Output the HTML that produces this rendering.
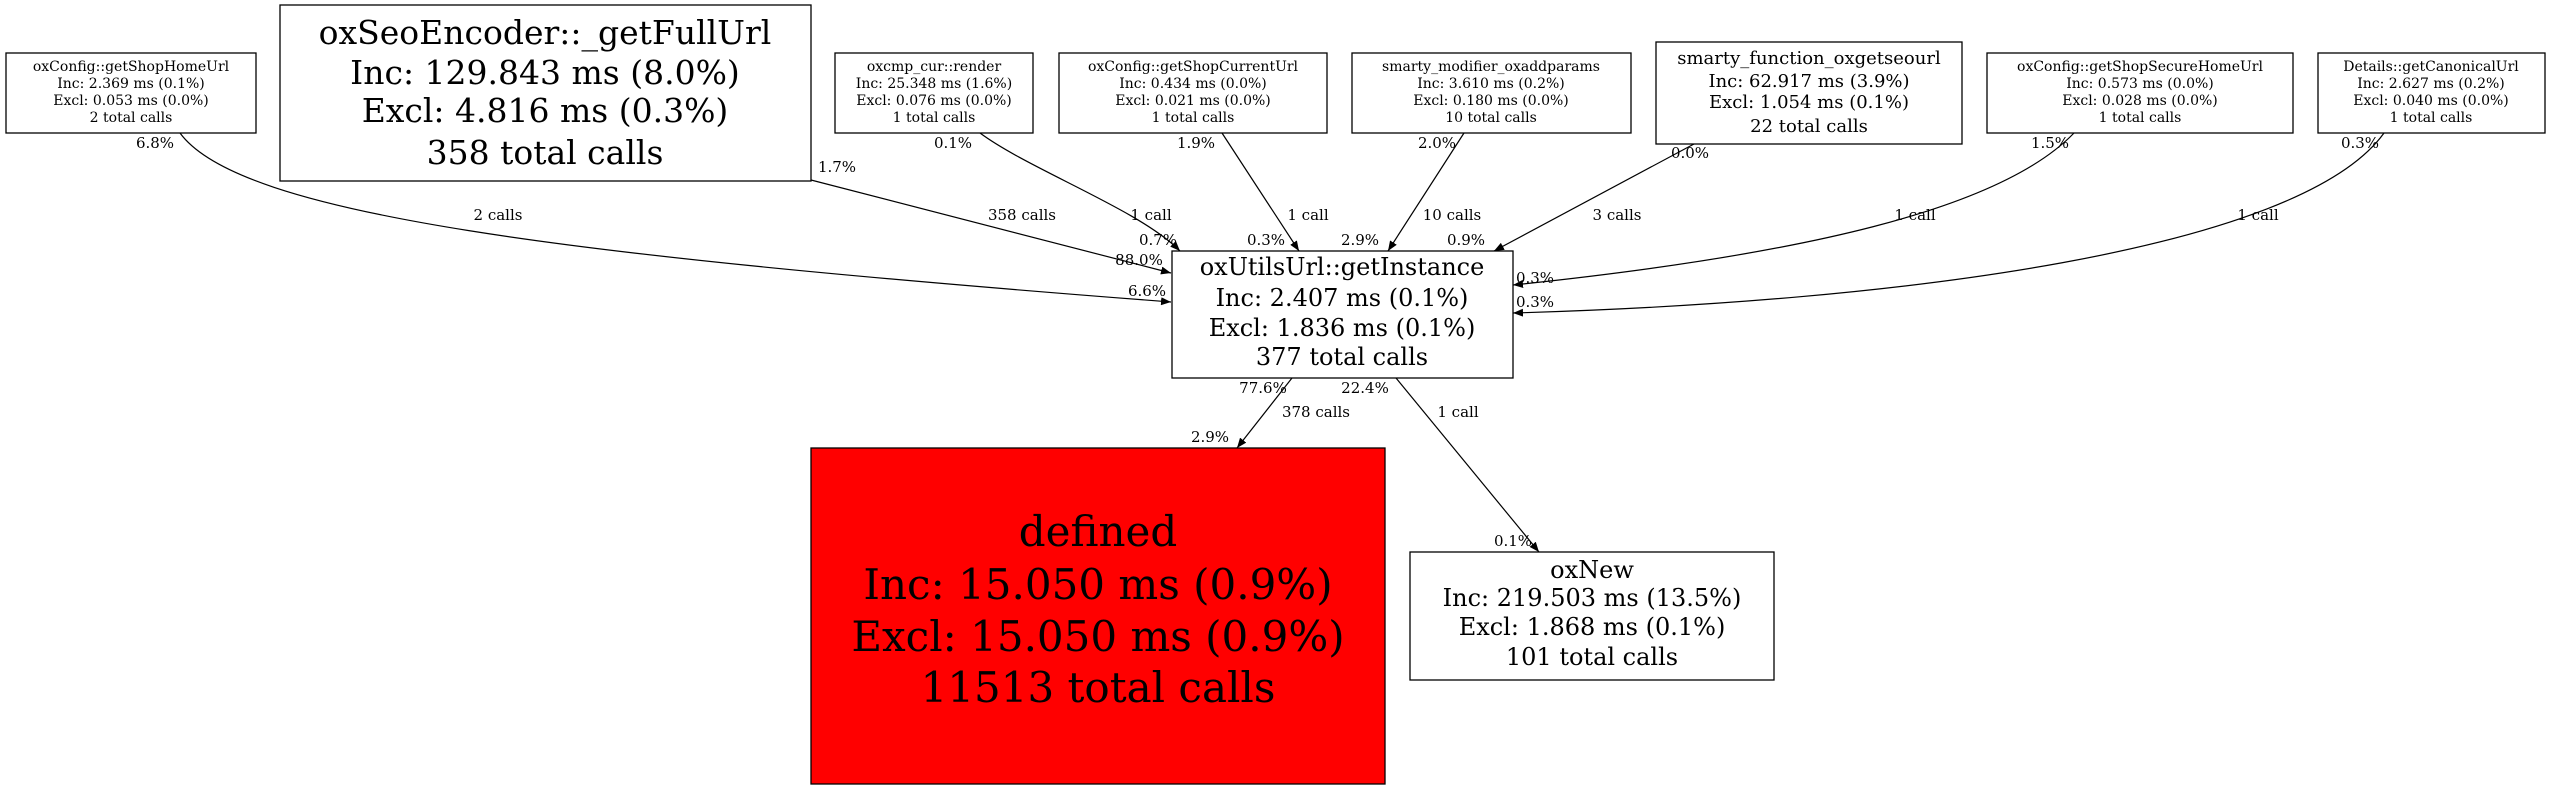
<!DOCTYPE html>
<html><head><meta charset="utf-8"><style>
html,body{margin:0;padding:0;background:#fff;}
svg{display:block;}
text{font-family:"DejaVu Serif","Liberation Serif",serif;fill:#000;text-anchor:middle;}
.s{font-size:14px;}
.e{font-size:15px;}
</style></head><body>
<svg width="2553" height="789" viewBox="0 0 2553 789" xmlns="http://www.w3.org/2000/svg">
<defs><marker id="a" markerWidth="10" markerHeight="8" refX="10" refY="4" orient="auto" markerUnits="userSpaceOnUse"><path d="M0,0 L10,4 L0,8 z" fill="#000"/></marker></defs>
<g fill="#fff" stroke="#000" stroke-width="1.3">
<rect x="6" y="53" width="250" height="80"/>
<rect x="280" y="5" width="531" height="176"/>
<rect x="835" y="53" width="198" height="80"/>
<rect x="1059" y="53" width="268" height="80"/>
<rect x="1352" y="53" width="279" height="80"/>
<rect x="1656" y="42" width="306" height="102"/>
<rect x="1987" y="53" width="306" height="80"/>
<rect x="2318" y="53" width="227" height="80"/>
<rect x="1172" y="251" width="341" height="127"/>
<rect x="811" y="448" width="574" height="336" fill="#ff0000"/>
<rect x="1410" y="552" width="364" height="128"/>
</g>
<g fill="none" stroke="#000" stroke-width="1.2" marker-end="url(#a)">
<path d="M180,133 C240,215 560,255 1171,302"/>
<path d="M811,180 L1171,273"/>
<path d="M980,133 C1030,170 1140,210 1180,251"/>
<path d="M1222,133 L1299,251"/>
<path d="M1464,133 L1388,251"/>
<path d="M1694,144 L1494,251"/>
<path d="M2074,133 C2000,210 1800,255 1513,285"/>
<path d="M2384,133 C2300,250 1900,302 1513,313"/>
<path d="M1292,378 L1237,448"/>
<path d="M1396,378 L1539,552"/>
</g>
<g class="s">
<text x="131" y="71">oxConfig::getShopHomeUrl</text><text x="131" y="88">Inc: 2.369 ms (0.1%)</text><text x="131" y="105">Excl: 0.053 ms (0.0%)</text><text x="131" y="122">2 total calls</text>
<text x="934" y="71">oxcmp_cur::render</text><text x="934" y="88">Inc: 25.348 ms (1.6%)</text><text x="934" y="105">Excl: 0.076 ms (0.0%)</text><text x="934" y="122">1 total calls</text>
<text x="1193" y="71">oxConfig::getShopCurrentUrl</text><text x="1193" y="88">Inc: 0.434 ms (0.0%)</text><text x="1193" y="105">Excl: 0.021 ms (0.0%)</text><text x="1193" y="122">1 total calls</text>
<text x="1491" y="71">smarty_modifier_oxaddparams</text><text x="1491" y="88">Inc: 3.610 ms (0.2%)</text><text x="1491" y="105">Excl: 0.180 ms (0.0%)</text><text x="1491" y="122">10 total calls</text>
<text x="2140" y="71">oxConfig::getShopSecureHomeUrl</text><text x="2140" y="88">Inc: 0.573 ms (0.0%)</text><text x="2140" y="105">Excl: 0.028 ms (0.0%)</text><text x="2140" y="122">1 total calls</text>
<text x="2431" y="71">Details::getCanonicalUrl</text><text x="2431" y="88">Inc: 2.627 ms (0.2%)</text><text x="2431" y="105">Excl: 0.040 ms (0.0%)</text><text x="2431" y="122">1 total calls</text>
</g>
<g style="font-size:33px">
<text x="545" y="44">oxSeoEncoder::_getFullUrl</text><text x="545" y="84">Inc: 129.843 ms (8.0%)</text><text x="545" y="122">Excl: 4.816 ms (0.3%)</text><text x="545" y="164">358 total calls</text>
</g>
<g style="font-size:18px">
<text x="1809" y="64">smarty_function_oxgetseourl</text><text x="1809" y="87">Inc: 62.917 ms (3.9%)</text><text x="1809" y="108">Excl: 1.054 ms (0.1%)</text><text x="1809" y="132">22 total calls</text>
</g>
<g style="font-size:24px">
<text x="1342" y="275">oxUtilsUrl::getInstance</text><text x="1342" y="306">Inc: 2.407 ms (0.1%)</text><text x="1342" y="336">Excl: 1.836 ms (0.1%)</text><text x="1342" y="365">377 total calls</text>
<text x="1592" y="578">oxNew</text><text x="1592" y="606">Inc: 219.503 ms (13.5%)</text><text x="1592" y="635">Excl: 1.868 ms (0.1%)</text><text x="1592" y="665">101 total calls</text>
</g>
<g style="font-size:42px">
<text x="1098" y="546">defined</text><text x="1098" y="599">Inc: 15.050 ms (0.9%)</text><text x="1098" y="651">Excl: 15.050 ms (0.9%)</text><text x="1098" y="702">11513 total calls</text>
</g>
<g class="e">
<text x="155" y="148">6.8%</text><text x="498" y="220">2 calls</text><text x="1147" y="296">6.6%</text>
<text x="837" y="172">1.7%</text><text x="1022" y="220">358 calls</text><text x="1139" y="265">88.0%</text>
<text x="953" y="148">0.1%</text><text x="1151" y="220">1 call</text><text x="1158" y="245">0.7%</text>
<text x="1196" y="148">1.9%</text><text x="1308" y="220">1 call</text><text x="1266" y="245">0.3%</text>
<text x="1437" y="148">2.0%</text><text x="1452" y="220">10 calls</text><text x="1360" y="245">2.9%</text>
<text x="1690" y="158">0.0%</text><text x="1617" y="220">3 calls</text><text x="1466" y="245">0.9%</text>
<text x="2050" y="148">1.5%</text><text x="1915" y="220">1 call</text><text x="1535" y="283">0.3%</text>
<text x="2360" y="148">0.3%</text><text x="2258" y="220">1 call</text><text x="1535" y="307">0.3%</text>
<text x="1263" y="393">77.6%</text><text x="1316" y="417">378 calls</text><text x="1210" y="442">2.9%</text>
<text x="1365" y="393">22.4%</text><text x="1458" y="417">1 call</text><text x="1513" y="546">0.1%</text>
</g>
</svg>
</body></html>
